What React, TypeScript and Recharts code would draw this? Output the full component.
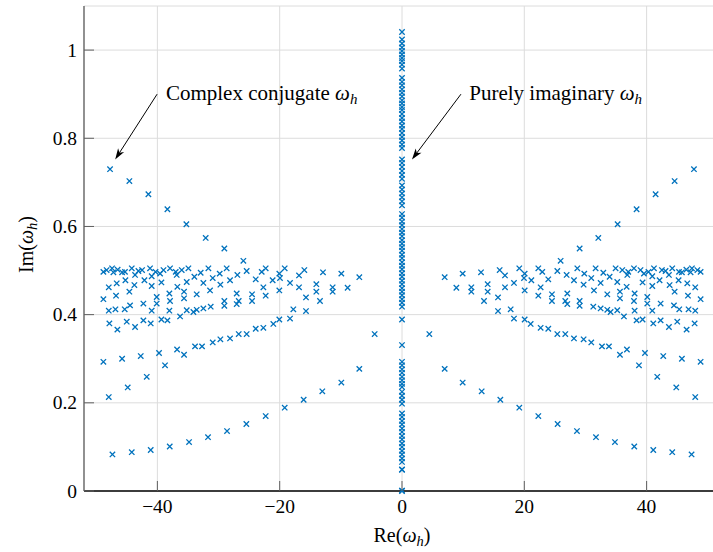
import React from 'react';
import {
  ScatterChart,
  Scatter,
  XAxis,
  YAxis,
  CartesianGrid,
  ReferenceLine,
  ReferenceDot,
  Label,
} from 'recharts';

// ---------- data ----------
const xTicks = [-40, -20, 0, 20, 40];
const yTicks = [0, 0.2, 0.4, 0.6, 0.8, 1];
const xDomain: [number, number] = [-52, 52];
const yDomain: [number, number] = [0, 1.1];

// complex-conjugate eigenvalues, left half plane (Re < 0)
const leftPoints: [number, number][] = [
  [-47.74, 0.730], [-44.58, 0.703], [-41.47, 0.673], [-38.36, 0.639], [-35.26, 0.605],
  [-32.10, 0.574], [-29.05, 0.550], [-25.94, 0.522],
  [-47.35, 0.083], [-44.19, 0.088], [-41.09, 0.093], [-37.98, 0.101], [-34.82, 0.111],
  [-31.72, 0.122], [-28.61, 0.136], [-25.45, 0.152], [-22.29, 0.170], [-19.18, 0.189],
  [-16.08, 0.207], [-13.03, 0.226], [-9.92, 0.246], [-6.98, 0.277], [-4.47, 0.356],
  [-47.95, 0.213], [-44.85, 0.235], [-41.74, 0.259], [-38.75, 0.285],
  [-48.83, 0.293], [-45.77, 0.300], [-42.72, 0.306], [-39.73, 0.313], [-36.78, 0.321],
  [-35.64, 0.309], [-33.84, 0.328], [-32.70, 0.328], [-30.95, 0.337], [-29.70, 0.344],
  [-28.12, 0.346], [-26.70, 0.356], [-25.40, 0.356], [-23.92, 0.368], [-22.67, 0.370],
  [-21.04, 0.379], [-20.06, 0.389], [-18.31, 0.391], [-17.77, 0.412], [-15.70, 0.408],
  [-15.70, 0.439], [-13.41, 0.431], [-14.01, 0.452], [-14.01, 0.469], [-11.34, 0.452],
  [-11.34, 0.462], [-8.89, 0.461], [-12.92, 0.496], [-9.92, 0.493], [-6.98, 0.485],
  [-15.97, 0.501], [-16.84, 0.489], [-16.84, 0.462], [-18.31, 0.472], [-19.18, 0.505],
  [-20.06, 0.493], [-19.95, 0.483], [-20.06, 0.455], [-21.15, 0.478], [-22.29, 0.505],
  [-22.94, 0.497], [-22.67, 0.462], [-22.29, 0.443], [-23.92, 0.480], [-24.52, 0.446],
  [-24.52, 0.431], [-25.40, 0.499], [-26.92, 0.490], [-27.03, 0.448], [-26.70, 0.431],
  [-27.03, 0.424], [-28.12, 0.478], [-28.67, 0.505], [-29.05, 0.431], [-29.05, 0.420],
  [-29.70, 0.468], [-29.81, 0.493], [-30.95, 0.483], [-31.39, 0.455], [-31.28, 0.418],
  [-31.66, 0.505], [-32.48, 0.472], [-32.48, 0.414], [-32.92, 0.495], [-33.57, 0.411],
  [-34.11, 0.406], [-33.57, 0.446], [-33.95, 0.486], [-34.93, 0.505], [-35.20, 0.474],
  [-35.64, 0.452], [-35.64, 0.437], [-35.20, 0.410], [-36.02, 0.501], [-36.29, 0.396],
  [-36.84, 0.490], [-36.73, 0.463], [-37.93, 0.505], [-38.04, 0.448], [-37.93, 0.431],
  [-38.04, 0.409], [-38.36, 0.387], [-39.34, 0.473], [-39.34, 0.389], [-39.56, 0.493],
  [-40.11, 0.440], [-40.11, 0.425], [-40.93, 0.487], [-40.93, 0.465], [-40.93, 0.409],
  [-41.09, 0.380], [-41.20, 0.505], [-42.12, 0.478], [-42.29, 0.425], [-42.29, 0.387],
  [-43.65, 0.372], [-43.65, 0.490], [-43.76, 0.467], [-44.19, 0.505], [-44.47, 0.421],
  [-44.58, 0.452], [-45.01, 0.384], [-45.23, 0.478], [-45.34, 0.412], [-45.77, 0.496],
  [-46.54, 0.366], [-46.65, 0.471], [-46.76, 0.443], [-46.86, 0.412], [-47.19, 0.496],
  [-47.41, 0.505], [-47.85, 0.380], [-47.95, 0.409], [-47.95, 0.462], [-48.83, 0.435],
  [-48.83, 0.497], [-48.30, 0.501], [-46.50, 0.502], [-45.30, 0.497], [-42.50, 0.501],
  [-40.30, 0.497], [-39.00, 0.501], [-37.00, 0.497], [-43.10, 0.499],
];

// complex-conjugate eigenvalues, right half plane (Re > 0)
const rightPoints: [number, number][] = [
  [47.74, 0.730], [44.58, 0.703], [41.47, 0.673], [38.36, 0.639], [35.26, 0.605],
  [32.10, 0.574], [29.05, 0.550], [25.94, 0.522],
  [47.35, 0.083], [44.19, 0.088], [41.09, 0.093], [37.98, 0.101], [34.82, 0.111],
  [31.72, 0.122], [28.61, 0.136], [25.45, 0.152], [22.29, 0.170], [19.18, 0.189],
  [16.08, 0.207], [13.03, 0.226], [9.92, 0.246], [6.98, 0.277], [4.47, 0.356],
  [47.95, 0.213], [44.85, 0.235], [41.74, 0.259], [38.75, 0.285],
  [48.83, 0.293], [45.77, 0.300], [42.72, 0.306], [39.73, 0.313], [36.78, 0.321],
  [35.64, 0.309], [33.84, 0.328], [32.70, 0.328], [30.95, 0.337], [29.70, 0.344],
  [28.12, 0.346], [26.70, 0.356], [25.40, 0.356], [23.92, 0.368], [22.67, 0.370],
  [21.04, 0.379], [20.06, 0.389], [18.31, 0.391], [17.77, 0.412], [15.70, 0.408],
  [15.70, 0.439], [13.41, 0.431], [14.01, 0.452], [14.01, 0.469], [11.34, 0.452],
  [11.34, 0.462], [8.89, 0.461], [12.92, 0.496], [9.92, 0.493], [6.98, 0.485],
  [15.97, 0.501], [16.84, 0.489], [16.84, 0.462], [18.31, 0.472], [19.18, 0.505],
  [20.06, 0.493], [19.95, 0.483], [20.06, 0.455], [21.15, 0.478], [22.29, 0.505],
  [22.94, 0.497], [22.67, 0.462], [22.29, 0.443], [23.92, 0.480], [24.52, 0.446],
  [24.52, 0.431], [25.40, 0.499], [26.92, 0.490], [27.03, 0.448], [26.70, 0.431],
  [27.03, 0.424], [28.12, 0.478], [28.67, 0.505], [29.05, 0.431], [29.05, 0.420],
  [29.70, 0.468], [29.81, 0.493], [30.95, 0.483], [31.39, 0.455], [31.28, 0.418],
  [31.66, 0.505], [32.48, 0.472], [32.48, 0.414], [32.92, 0.495], [33.57, 0.411],
  [34.11, 0.406], [33.57, 0.446], [33.95, 0.486], [34.93, 0.505], [35.20, 0.474],
  [35.64, 0.452], [35.64, 0.437], [35.20, 0.410], [36.02, 0.501], [36.29, 0.396],
  [36.84, 0.490], [36.73, 0.463], [37.93, 0.505], [38.04, 0.448], [37.93, 0.431],
  [38.04, 0.409], [38.36, 0.387], [39.34, 0.473], [39.34, 0.389], [39.56, 0.493],
  [40.11, 0.440], [40.11, 0.425], [40.93, 0.487], [40.93, 0.465], [40.93, 0.409],
  [41.09, 0.380], [41.20, 0.505], [42.12, 0.478], [42.29, 0.425], [42.29, 0.387],
  [43.65, 0.372], [43.65, 0.490], [43.76, 0.467], [44.19, 0.505], [44.47, 0.421],
  [44.58, 0.452], [45.01, 0.384], [45.23, 0.478], [45.34, 0.412], [45.77, 0.496],
  [46.54, 0.366], [46.65, 0.471], [46.76, 0.443], [46.86, 0.412], [47.19, 0.496],
  [47.41, 0.505], [47.85, 0.380], [47.95, 0.409], [47.95, 0.462], [48.83, 0.435],
  [48.83, 0.497], [48.30, 0.501], [46.50, 0.502], [45.30, 0.497], [42.50, 0.501],
  [40.30, 0.497], [39.00, 0.501], [37.00, 0.497], [43.10, 0.499],
];

// purely imaginary eigenvalues (Re = 0)
const imaginaryIm: number[] = [
  1.041, 1.024, 1.015, 1.006, 0.998, 0.990, 0.982, 0.975, 0.967, 0.958,
  0.937, 0.928, 0.920, 0.911, 0.903, 0.895, 0.886, 0.879, 0.871, 0.864,
  0.855, 0.846, 0.838, 0.829, 0.821, 0.812, 0.803, 0.795, 0.786, 0.778,
  0.752, 0.744, 0.735, 0.726, 0.717, 0.708, 0.693, 0.684, 0.675, 0.666,
  0.657, 0.648, 0.628, 0.620, 0.611, 0.603, 0.594, 0.586, 0.578, 0.569,
  0.561, 0.553, 0.545, 0.536, 0.528, 0.519, 0.511, 0.503, 0.494, 0.486,
  0.477, 0.469, 0.460, 0.452, 0.444, 0.435, 0.427, 0.418, 0.389, 0.331,
  0.293, 0.285, 0.276, 0.268, 0.259, 0.251, 0.243, 0.236, 0.225, 0.216,
  0.207, 0.198, 0.176, 0.168, 0.159, 0.151, 0.142, 0.134, 0.125, 0.117,
  0.108, 0.100, 0.091, 0.083, 0.074, 0.066, 0.049, 0.048, 0.001, 0.0,
];

// annotations (data coordinates)
const complexLabel = { text: 'Complex conjugate ', x: -38.6, y: 0.887 };
const complexArrow = [{ x: -40.05, y: 0.9 }, { x: -46.9, y: 0.752 }];
const imagLabel = { text: 'Purely imaginary ', x: 11.0, y: 0.887 };
const imagArrow = [{ x: 9.64, y: 0.9 }, { x: 1.63, y: 0.752 }];

// ---------- styling ----------
const BLUE = '#0072BD';
const FONT = '"Liberation Serif", "Times New Roman", serif';
const TICK_COLOR = '#5f5f5f';
const TICK_LEN = 10;

const leftData = leftPoints.map(([x, y]) => ({ x, y }));
const rightData = rightPoints.map(([x, y]) => ({ x, y }));
const imagData = imaginaryIm.map((y) => ({ x: 0, y }));

const fmt = (v: number) => (v < 0 ? '\u2212' + Math.abs(v) : String(v));

const Cross = (props: any) => {
  const { cx, cy } = props;
  if (cx == null || cy == null) return null;
  const s = 2.7;
  return (
    <path
      d={`M${cx - s},${cy - s}L${cx + s},${cy + s}M${cx - s},${cy + s}L${cx + s},${cy - s}`}
      stroke={BLUE}
      strokeWidth={1.3}
      fill="none"
    />
  );
};

const BottomTick = (props: any) => {
  const { x, y, payload } = props;
  return (
    <g>
      <line x1={x} y1={y} x2={x} y2={y - TICK_LEN} stroke={TICK_COLOR} strokeWidth={1} />
      <text x={x} y={y + 22} textAnchor="middle" style={{ fontFamily: FONT }} fontSize={19.5} fill="#000">
        {fmt(payload.value)}
      </text>
    </g>
  );
};

const TopTick = (props: any) => {
  const { x, y } = props;
  return <line x1={x} y1={y} x2={x} y2={y + TICK_LEN} stroke={TICK_COLOR} strokeWidth={1} />;
};

const LeftTick = (props: any) => {
  const { x, y, payload } = props;
  return (
    <g>
      <line x1={x} y1={y} x2={x + TICK_LEN} y2={y} stroke={TICK_COLOR} strokeWidth={1} />
      <text x={x - 7} y={y + 6.5} textAnchor="end" style={{ fontFamily: FONT }} fontSize={19.5} fill="#000">
        {fmt(payload.value)}
      </text>
    </g>
  );
};

const RightTick = (props: any) => {
  const { x, y } = props;
  return <line x1={x} y1={y} x2={x - TICK_LEN} y2={y} stroke={TICK_COLOR} strokeWidth={1} />;
};

const Arrow = (props: any) => {
  const { x1, y1, x2, y2 } = props;
  if ([x1, y1, x2, y2].some((v) => v == null || Number.isNaN(v))) return null;
  const ang = Math.atan2(y2 - y1, x2 - x1);
  const L = 11;
  const W = 3.6;
  const c = Math.cos(ang);
  const s = Math.sin(ang);
  const bx = x2 - L * c;
  const by = y2 - L * s;
  const nx = -s;
  const ny = c;
  const inset = 3;
  const ix = x2 - (L - inset) * c;
  const iy = y2 - (L - inset) * s;
  return (
    <g>
      <line x1={x1} y1={y1} x2={ix} y2={iy} stroke="#000" strokeWidth={1} />
      <path
        d={`M${x2},${y2}L${bx + W * nx},${by + W * ny}L${ix},${iy}L${bx - W * nx},${by - W * ny}Z`}
        fill="#000"
      />
    </g>
  );
};

const annotationText = (label: { text: string }) => (props: any) => {
  const { cx, cy } = props;
  if (cx == null || cy == null) return null;
  return (
    <g style={{ fontFamily: FONT }}>
      <text x={cx} y={cy} style={{ fontFamily: FONT }} fontSize={21} fill="#000">
        {label.text}
        <tspan fontStyle="italic">ω</tspan>
        <tspan fontStyle="italic" fontSize={15} dy={4}>h</tspan>
      </text>
    </g>
  );
};

const XLabel = (props: any) => {
  const vb = props.viewBox || { x: 84, y: 491, width: 636, height: 61 };
  const cx = vb.x + vb.width / 2;
  return (
    <text x={cx} y={vb.y + 51} textAnchor="middle" style={{ fontFamily: FONT }} fontSize={20} fill="#000">
      Re(
      <tspan fontStyle="italic">ω</tspan>
      <tspan fontStyle="italic" fontSize={14.5} dy={4}>h</tspan>
      <tspan dy={-4}>)</tspan>
    </text>
  );
};

const YLabel = (props: any) => {
  const vb = props.viewBox || { x: 0, y: 6, width: 84, height: 485 };
  const cx = vb.x + 33;
  const cy = vb.y + vb.height / 2 - 4;
  return (
    <text
      x={cx}
      y={cy}
      transform={`rotate(-90 ${cx} ${cy})`}
      textAnchor="middle"
      style={{ fontFamily: FONT }}
      fontSize={20}
      fill="#000"
    >
      Im(
      <tspan fontStyle="italic">ω</tspan>
      <tspan fontStyle="italic" fontSize={14.5} dy={4}>h</tspan>
      <tspan dy={-4}>)</tspan>
    </text>
  );
};

export default function App() {
  return (
    <div
      style={{
        position: 'absolute',
        left: 0,
        top: 0,
        width: 713,
        height: 552,
        overflow: 'hidden',
        background: '#fff',
        fontFamily: FONT,
      }}
    >
      <ScatterChart width={722} height={552} margin={{ top: 6, right: 2, bottom: 0, left: 0 }}>
        <CartesianGrid stroke="#dcdcdc" strokeWidth={1} />
        <XAxis
          type="number"
          dataKey="x"
          domain={xDomain}
          ticks={xTicks}
          height={61}
          tickSize={0}
          tickMargin={0}
          tickLine={false}
          axisLine={{ stroke: '#000', strokeWidth: 1.3 }}
          tick={<BottomTick />}
          interval={0}
        >
          <Label content={<XLabel />} />
        </XAxis>
        <XAxis
          xAxisId="top"
          orientation="top"
          type="number"
          domain={xDomain}
          ticks={xTicks}
          allowDataOverflow
          height={0}
          tickSize={0}
          tickMargin={0}
          tickLine={false}
          axisLine={{ stroke: '#5f5f5f', strokeWidth: 1 }}
          tick={<TopTick />}
          interval={0}
        />
        <YAxis
          type="number"
          dataKey="y"
          domain={yDomain}
          ticks={yTicks}
          width={84}
          tickSize={0}
          tickMargin={0}
          tickLine={false}
          axisLine={{ stroke: '#5f5f5f', strokeWidth: 1.3 }}
          tick={<LeftTick />}
          interval={0}
        >
          <Label content={<YLabel />} />
        </YAxis>
        <YAxis
          yAxisId="right"
          orientation="right"
          type="number"
          domain={yDomain}
          ticks={yTicks}
          allowDataOverflow
          width={0}
          tickSize={0}
          tickMargin={0}
          tickLine={false}
          axisLine={{ stroke: '#5f5f5f', strokeWidth: 1 }}
          tick={<RightTick />}
          interval={0}
        />
        <Scatter data={leftData} shape={Cross} isAnimationActive={false} />
        <Scatter data={rightData} shape={Cross} isAnimationActive={false} />
        <Scatter data={imagData} shape={Cross} isAnimationActive={false} />
        <ReferenceLine segment={complexArrow} shape={Arrow} ifOverflow="visible" />
        <ReferenceLine segment={imagArrow} shape={Arrow} ifOverflow="visible" />
        <ReferenceDot
          x={complexLabel.x}
          y={complexLabel.y}
          r={0}
          ifOverflow="visible"
          shape={annotationText(complexLabel)}
        />
        <ReferenceDot
          x={imagLabel.x}
          y={imagLabel.y}
          r={0}
          ifOverflow="visible"
          shape={annotationText(imagLabel)}
        />
      </ScatterChart>
    </div>
  );
}
